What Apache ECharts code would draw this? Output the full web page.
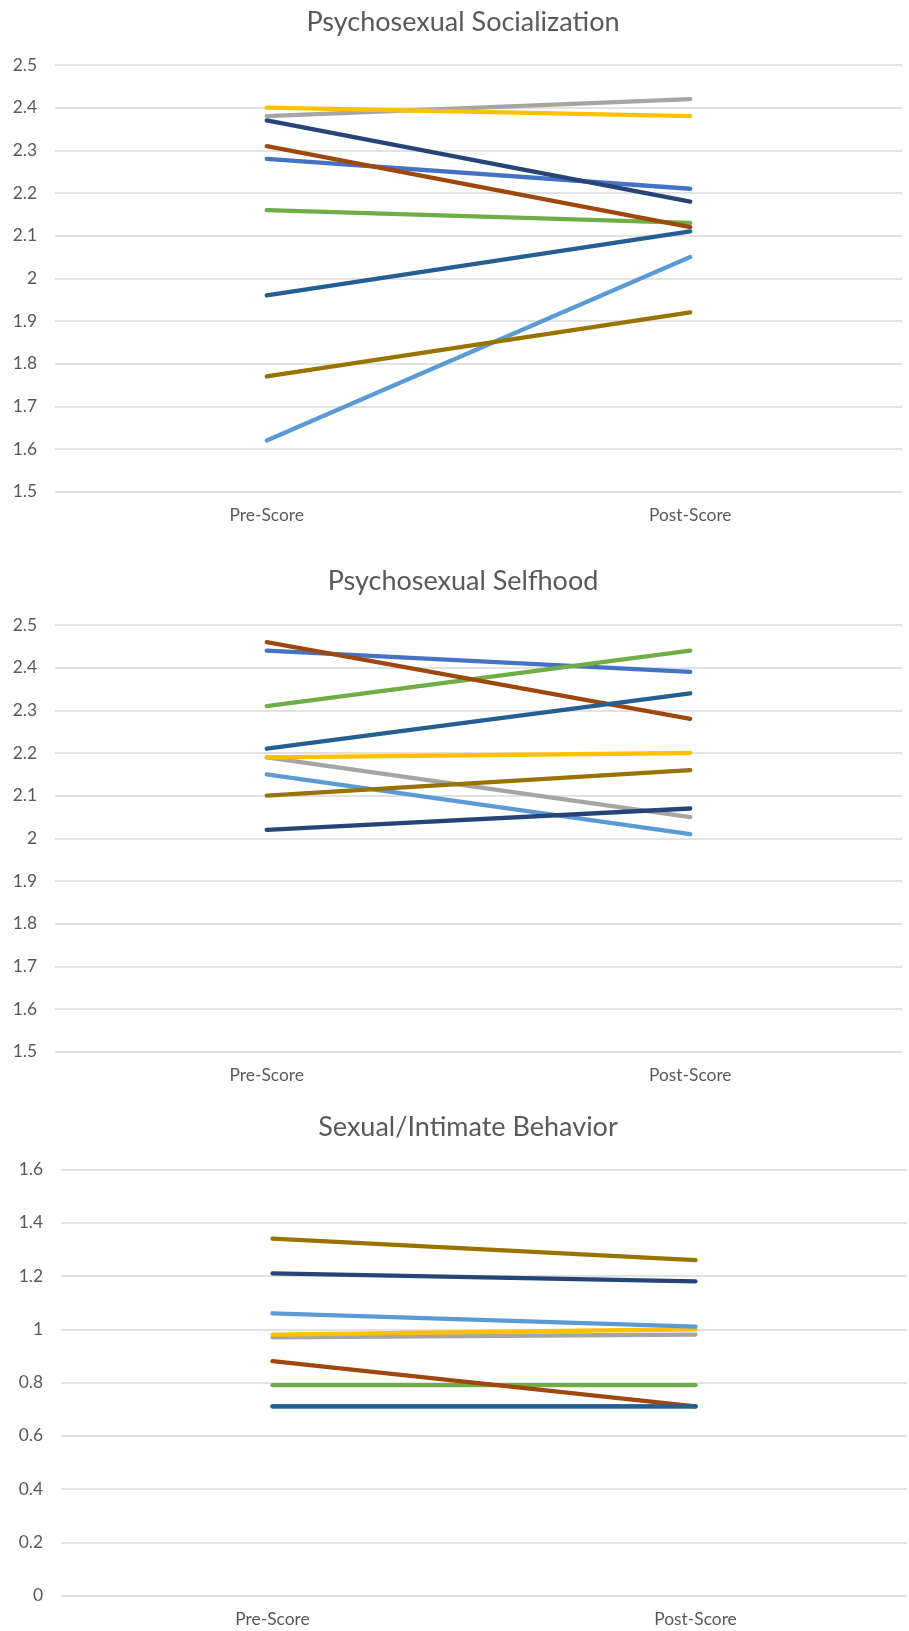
<!DOCTYPE html>
<html>
<head>
<meta charset="utf-8">
<title>Pre/Post Scores</title>
<script src="https://cdn.jsdelivr.net/npm/echarts@6/dist/echarts.min.js"></script>
<style>
  html, body { margin: 0; padding: 0; background: #ffffff; }
  #chart { width: 909px; height: 1631px; }
</style>
</head>
<body>
<div id="chart"></div>
<script>
// Categories shared by all three panels
const categories = ['Pre-Score', 'Post-Score'];

// Panel titles
const panelTitles = ['Psychosexual Socialization', 'Psychosexual Selfhood', 'Sexual/Intimate Behavior'];

// Series names (one line per series, same order in every panel)
const seriesNames = ['Series 1', 'Series 2', 'Series 3', 'Series 4', 'Series 5',
                     'Series 6', 'Series 7', 'Series 8', 'Series 9'];

// Psychosexual Socialization: pre and post means
const socializationPre  = [2.28, 2.38, 2.40, 1.62, 2.16, 2.37, 2.31, 1.77, 1.96];
const socializationPost = [2.21, 2.42, 2.38, 2.05, 2.13, 2.18, 2.12, 1.92, 2.11];

// Psychosexual Selfhood: pre and post means
const selfhoodPre  = [2.44, 2.19, 2.19, 2.15, 2.31, 2.02, 2.46, 2.10, 2.21];
const selfhoodPost = [2.39, 2.05, 2.20, 2.01, 2.44, 2.07, 2.28, 2.16, 2.34];

// Sexual/Intimate Behavior: pre and post means
const behaviorPre  = [0.71, 0.97, 0.98, 1.06, 0.79, 1.21, 0.88, 1.34, 0.71];
const behaviorPost = [0.71, 0.98, 1.00, 1.01, 0.79, 1.18, 0.71, 1.26, 0.71];

// Value-axis tick labels per panel
const socializationTicks = ['1.5', '1.6', '1.7', '1.8', '1.9', '2', '2.1', '2.2', '2.3', '2.4', '2.5'];
const selfhoodTicks      = ['1.5', '1.6', '1.7', '1.8', '1.9', '2', '2.1', '2.2', '2.3', '2.4', '2.5'];
const behaviorTicks      = ['0', '0.2', '0.4', '0.6', '0.8', '1', '1.2', '1.4', '1.6'];

// Line colours, by series
const palette = ['#4472C4', '#A5A5A5', '#FFC000', '#5B9BD5', '#70AD47',
                 '#264478', '#9E480E', '#997300', '#255E91'];

const FONT = 'Lato, "Liberation Sans", sans-serif';
const TEXT = '#595959';
const GRID_LINE = '#D9D9D9';

const panels = [
  { pre: socializationPre, post: socializationPost, ticks: socializationTicks, interval: 0.1,
    grid: { left: 55, top: 65, width: 847, height: 426.7 },
    title: { x: 463, y: 9 } },
  { pre: selfhoodPre, post: selfhoodPost, ticks: selfhoodTicks, interval: 0.1,
    grid: { left: 55, top: 625, width: 847, height: 426.7 },
    title: { x: 463, y: 568 } },
  { pre: behaviorPre, post: behaviorPost, ticks: behaviorTicks, interval: 0.2,
    grid: { left: 61, top: 1169.5, width: 846, height: 426 },
    title: { x: 468, y: 1114 } }
];

const option = {
  animation: false,
  backgroundColor: '#ffffff',
  title: panels.map((p, i) => ({
    text: panelTitles[i],
    left: p.title.x,
    top: p.title.y,
    textAlign: 'center',
    padding: 0,
    textStyle: { fontFamily: FONT, fontSize: 27, fontWeight: 'normal', color: TEXT }
  })),
  grid: panels.map(p => Object.assign({ containLabel: false }, p.grid)),
  xAxis: panels.map((p, i) => ({
    type: 'category',
    gridIndex: i,
    data: categories,
    boundaryGap: true,
    axisLine: { show: false },
    axisTick: { show: false },
    axisLabel: { margin: 15, fontFamily: FONT, fontSize: 17.4, color: TEXT }
  })),
  yAxis: panels.map((p, i) => ({
    type: 'value',
    gridIndex: i,
    min: parseFloat(p.ticks[0]),
    max: parseFloat(p.ticks[p.ticks.length - 1]),
    interval: p.interval,
    axisLine: { show: false },
    axisTick: { show: false },
    splitLine: { show: true, lineStyle: { color: GRID_LINE, width: 1.5 } },
    axisLabel: {
      margin: 18,
      fontFamily: FONT, fontSize: 17.4, color: TEXT,
      formatter: v => p.ticks[Math.round((v - parseFloat(p.ticks[0])) / p.interval)]
    }
  })),
  series: []
};

panels.forEach((p, pi) => {
  seriesNames.forEach((name, si) => {
    option.series.push({
      type: 'line',
      name: name,
      xAxisIndex: pi,
      yAxisIndex: pi,
      data: [p.pre[si], p.post[si]],
      symbol: 'none',
      color: palette[si],
      lineStyle: { width: 4.3, color: palette[si], cap: 'round', join: 'round' },
      emphasis: { disabled: true }
    });
  });
});

const chart = echarts.init(document.getElementById('chart'), null, { renderer: 'canvas' });
chart.setOption(option);
</script>
</body>
</html>
